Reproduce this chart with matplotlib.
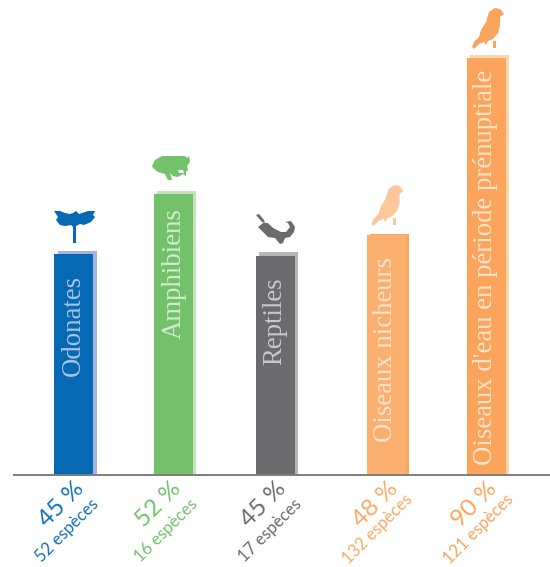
#!/usr/bin/env python3
"""Share of threatened species per group, bars with rotated labels and small icons."""

import matplotlib

matplotlib.use("Agg")
import matplotlib.pyplot as plt
from matplotlib.patches import Polygon

WIDTH, HEIGHT = 550, 567
BASE_Y = 475
BAR_WIDTH = 39

groups = ["Odonates", "Amphibiens", "Reptiles", "Oiseaux nicheurs",
          "Oiseaux d'eau en période prénuptiale"]
percent_labels = ["45 %", "52 %", "45 %", "48 %", "90 %"]
species_labels = ["52 espèces", "16 espèces", "17 espèces", "132 espèces", "121 espèces"]
# bar lengths as drawn in the picture (they do not follow the percentages exactly)
bar_lengths = [221, 281, 219, 240, 417]

bar_left = [54, 154, 256, 367, 467]
shadow_dx = [4, 3, 3, 3, 3]
shadow_rise = [3, 3, 4, 1, 3]
group_xy = [(73, 325), (174, 274), (275, 321), (385, 349), (486, 267)]
percent_xy = [(61, 504), (158, 504), (263, 504), (375, 504), (474, 504)]
species_xy = [(67, 530), (166, 530), (270, 530), (378, 529), (479, 529)]

colors = ["#0569b3", "#74c16b", "#6b6b6d", "#fbb06f", "#fba45c"]
shadows = ["#a4b5dc", "#c5e2bf", "#b5b5b6", "#fba65e", "#fdd5ac"]
icon_colors = ["#0569b3", "#74c16b", "#6b6b6d", "#fcc79a", "#fba45c"]
label_colors = ["#a9c4e2", "#d5ebd1", "#c9c9ca", "#fde3cc", "#fde3cc"]
text_colors = ["#0f72bc", "#74c16b", "#6b6b6d", "#fba964", "#fba45c"]

# icon outlines, in picture pixels
DRAGONFLY = [[(54, 211), (60, 211), (65, 213), (70, 214), (73, 213), (76, 211), (79, 214), (88, 211),
              (95, 211), (93, 215), (95, 217), (91, 222), (84, 225), (80, 224), (76, 226), (76, 243),
              (73, 243), (73, 227), (71, 225), (65, 226), (60, 225), (56, 220), (58, 217)]]
FROG = [[(152, 166), (155, 160), (162, 156), (185, 156), (187, 158), (189, 156), (190, 162), (187, 166),
         (188, 170), (186, 172), (186, 176), (183, 174), (178, 177), (173, 176), (170, 173), (172, 180),
         (168, 180), (165, 174), (158, 172), (153, 168)]]
LIZARD = [[(258, 227), (263, 223), (268, 223), (273, 228), (281, 232), (286, 232), (290, 227), (288, 223),
           (285, 222), (291, 221), (295, 227), (294, 232), (290, 237), (285, 238), (283, 243), (280, 244),
           (275, 238), (268, 237), (261, 230)],
          [(256, 215), (259, 214), (264, 220), (265, 223), (262, 222)]]
BIRD = [[(472, 47), (474, 42), (479, 37), (481, 30), (486, 22), (489, 12), (495, 8), (500, 9), (504, 14),
         (500, 17), (500, 26), (498, 33), (493, 39), (488, 41), (486, 45), (484, 42), (479, 44), (474, 49)],
        [(493, 41), (496, 41), (496, 48), (493, 48)]]
FROG_EYE = [(178, 170), (183, 170), (184, 173), (179, 173)]
icons = [(DRAGONFLY, 0, 0), (FROG, 0, 0), (LIZARD, 0, 0), (BIRD, -100.5, 177), (BIRD, 0, 0)]


def main() -> None:
    plt.rcParams["font.family"] = ["Liberation Serif", "DejaVu Serif"]
    fig = plt.figure(figsize=(WIDTH / 100, HEIGHT / 100), dpi=100)
    ax = fig.add_axes([0, 0, 1, 1])
    ax.set_xlim(0, WIDTH)
    ax.set_ylim(HEIGHT, 0)
    ax.axis("off")

    for i, group in enumerate(groups):
        length = bar_lengths[i]
        left = bar_left[i]
        rise = shadow_rise[i]
        ax.bar(left + shadow_dx[i], length + rise, width=BAR_WIDTH, bottom=BASE_Y - length - rise,
               align="edge", color=shadows[i], linewidth=0, zorder=1)
        ax.bar(left, length, width=BAR_WIDTH, bottom=BASE_Y - length, align="edge",
               color=colors[i], linewidth=0, zorder=2)
        ax.text(*group_xy[i], group, rotation=90, ha="center", va="center",
                fontsize=19.3, color=label_colors[i], zorder=3)

        ax.text(*percent_xy[i], percent_labels[i], rotation=45, ha="center", va="center",
                fontsize=17.5, family="Lato", color=text_colors[i], rotation_mode="anchor")
        ax.text(*species_xy[i], species_labels[i], rotation=45, ha="center", va="center",
                fontsize=12, family="Lato", color=text_colors[i], rotation_mode="anchor")

        outlines, dx, dy = icons[i]
        for outline in outlines:
            ax.add_patch(Polygon([(x + dx, y + dy) for x, y in outline], closed=True,
                                 facecolor=icon_colors[i], edgecolor="none", zorder=2))

    ax.add_patch(Polygon(FROG_EYE, closed=True, facecolor="white", edgecolor="none", zorder=3))
    ax.plot([14, 550], [BASE_Y, BASE_Y], color="#7d7d7d", linewidth=1.4, zorder=4)

    fig.savefig("out.png", dpi=100)
    plt.close(fig)


if __name__ == "__main__":
    main()
